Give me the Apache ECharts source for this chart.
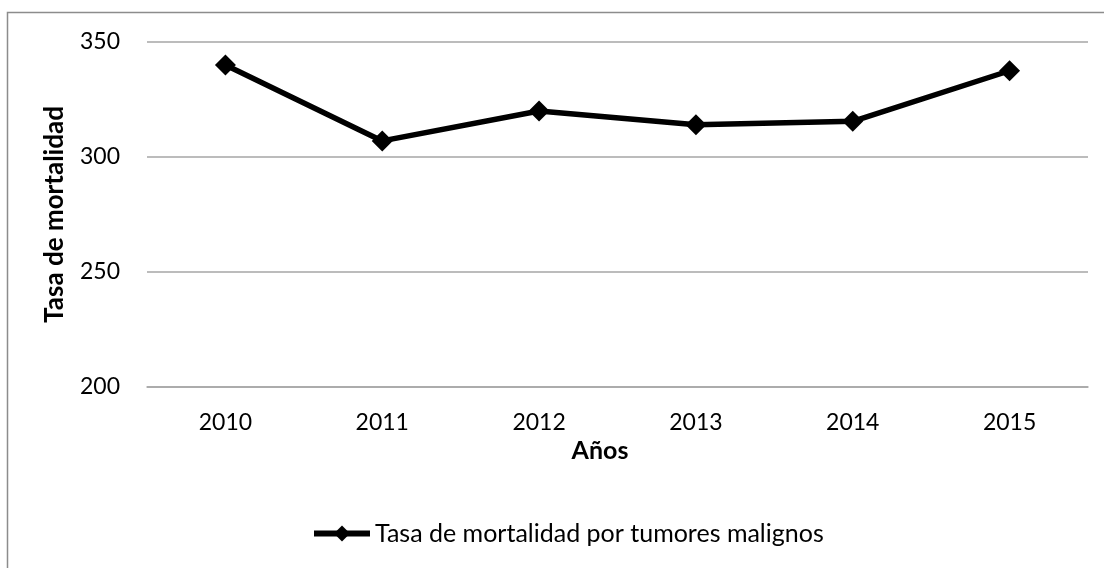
<!DOCTYPE html>
<html>
<head>
<meta charset="utf-8">
<script src="https://cdn.jsdelivr.net/npm/echarts@6/dist/echarts.min.js"></script>
<style>
  html, body { margin: 0; padding: 0; background: #ffffff; }
  #chart { width: 1104px; height: 568px; }
</style>
</head>
<body>
<div id="chart"></div>
<script>
// Años y tasa de mortalidad por tumores malignos
const years = ['2010', '2011', '2012', '2013', '2014', '2015'];
const tasaMortalidad = [340, 307, 320, 314, 315.5, 337.5];
const seriesName = 'Tasa de mortalidad por tumores malignos';
const yAxisTitle = 'Tasa de mortalidad';
const xAxisTitle = 'Años';

const FONT = 'Lato, "Open Sans", sans-serif';
const GRID_COLOR = '#a6a6a6';

const chart = echarts.init(document.getElementById('chart'), null, { renderer: 'canvas' });

chart.setOption({
  animation: false,
  backgroundColor: '#ffffff',
  grid: { left: 147, right: 16, top: 42, bottom: 181, containLabel: false },
  graphic: [
    {
      type: 'rect',
      shape: { x: 7.5, y: 12.5, width: 1120, height: 600 },
      style: { fill: 'none', stroke: '#8c8c8c', lineWidth: 1.5 },
      silent: true
    },
    {
      type: 'text',
      x: 600, y: 451,
      style: {
        text: xAxisTitle,
        font: 'bold 25px ' + FONT,
        fill: '#000000',
        textAlign: 'center',
        textVerticalAlign: 'middle'
      }
    }
  ],
  legend: {
    data: [seriesName],
    left: 311,
    top: 521,
    padding: 0,
    itemWidth: 56,
    itemHeight: 20,
    lineStyle: { width: 6, color: '#000000' },
    textStyle: { fontFamily: FONT, fontSize: 25, color: '#000000' }
  },
  xAxis: {
    type: 'category',
    data: years,
    boundaryGap: true,
    axisLine: { show: true, lineStyle: { color: GRID_COLOR, width: 1.5 } },
    axisTick: { show: false },
    axisLabel: { fontFamily: FONT, fontSize: 23, color: '#000000', margin: 24 },
    splitLine: { show: false }
  },
  yAxis: {
    type: 'value',
    min: 200,
    max: 350,
    interval: 50,
    name: yAxisTitle,
    nameLocation: 'middle',
    nameRotate: 90,
    nameGap: 79,
    nameTextStyle: { fontFamily: FONT, fontSize: 26, fontWeight: 'bold', color: '#000000' },
    axisLine: { show: false },
    axisTick: { show: false },
    axisLabel: { fontFamily: FONT, fontSize: 23, color: '#000000', margin: 27 },
    splitLine: { show: true, lineStyle: { color: GRID_COLOR, width: 1.5 } }
  },
  series: [
    {
      name: seriesName,
      type: 'line',
      data: tasaMortalidad,
      symbol: 'diamond',
      symbolSize: 21,
      lineStyle: { color: '#000000', width: 5.5 },
      itemStyle: { color: '#000000' }
    }
  ]
});
</script>
</body>
</html>
